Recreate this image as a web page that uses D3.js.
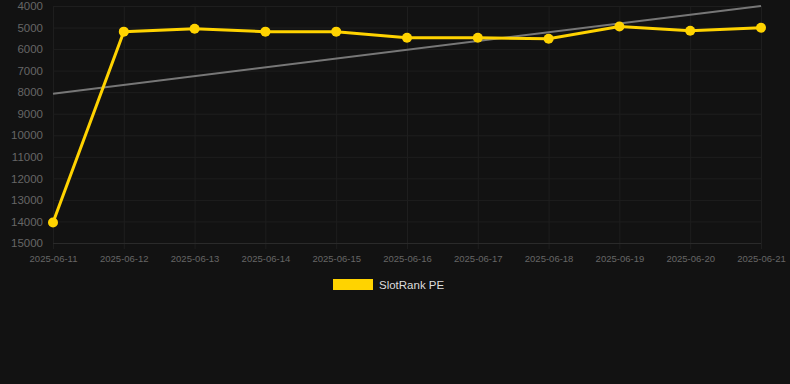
<!DOCTYPE html>
<html>
<head>
<meta charset="utf-8">
<script src="https://cdn.jsdelivr.net/npm/d3@7"></script>
<style>
  html, body { margin: 0; padding: 0; background: #121212; }
  #chart { width: 790px; height: 384px; }
  text { font-family: "Liberation Sans", Arial, sans-serif; }
</style>
</head>
<body>
<div id="chart"></div>
<script>
// data
var dates = ['2025-06-11','2025-06-12','2025-06-13','2025-06-14','2025-06-15','2025-06-16',
             '2025-06-17','2025-06-18','2025-06-19','2025-06-20','2025-06-21']
var rankPE = [14050, 5190, 5060, 5190, 5190, 5470, 5470, 5520, 4950, 5150, 5010]
var trendStart = 8070, trendEnd = 4000
var yTicks = [4000,5000,6000,7000,8000,9000,10000,11000,12000,13000,14000,15000]
var seriesName = 'SlotRank PE'

var width = 790, height = 384
var margin = {left: 53, right: 29, top: 6, bottom: 141}

var svg = d3.select('#chart').append('svg')
  .attr('width', width)
  .attr('height', height)

var x = d3.scalePoint()
  .domain(dates)
  .range([margin.left, width - margin.right])

var y = d3.scaleLinear()
  .domain([4000, 15000])
  .range([margin.top, height - margin.bottom])

// grid
var gx = svg.append('g')
  .attr('transform', 'translate(0,' + (height - margin.bottom) + ')')
  .call(d3.axisBottom(x).tickSize(-(height - margin.bottom - margin.top)).tickPadding(12))
gx.select('.domain').remove()
gx.selectAll('.tick line').attr('stroke', '#1e1e1e').attr('y2', 6)
  .attr('y1', -(height - margin.bottom - margin.top))
gx.selectAll('.tick text').attr('fill', '#666').style('font-size', '9.5px')

var gy = svg.append('g')
  .attr('transform', 'translate(' + margin.left + ',0)')
  .call(d3.axisLeft(y).tickValues(yTicks).tickFormat(d3.format('d'))
    .tickSize(-(width - margin.left - margin.right)).tickPadding(10))
gy.select('.domain').remove()
gy.selectAll('.tick line').attr('stroke', '#1e1e1e')
gy.selectAll('.tick line').filter(function(d) { return d === 15000 }).attr('stroke', '#2a2a2a')
gy.selectAll('.tick text').attr('fill', '#666').style('font-size', '11.5px')

// trend line
svg.append('line')
  .attr('x1', x(dates[0])).attr('y1', y(trendStart))
  .attr('x2', x(dates[dates.length - 1])).attr('y2', y(trendEnd))
  .attr('stroke', '#777').attr('stroke-width', 2)

// series
var line = d3.line()
  .x(function(d, i) { return x(dates[i]) })
  .y(function(d) { return y(d) })

svg.append('path')
  .datum(rankPE)
  .attr('d', line)
  .attr('fill', 'none')
  .attr('stroke', '#ffd300')
  .attr('stroke-width', 3)

svg.selectAll('circle.pt')
  .data(rankPE)
  .enter()
  .append('circle')
  .attr('class', 'pt')
  .attr('cx', function(d, i) { return x(dates[i]) })
  .attr('cy', function(d) { return y(d) })
  .attr('r', 5)
  .attr('fill', '#ffd300')

// legend
var lg = svg.append('g').attr('transform', 'translate(333,279)')
lg.append('rect').attr('width', 40).attr('height', 11).attr('fill', '#ffd300')
lg.append('text').attr('x', 46).attr('y', 9.5)
  .attr('fill', '#ddd').style('font-size', '11.5px')
  .text(seriesName)
</script>
</body>
</html>
